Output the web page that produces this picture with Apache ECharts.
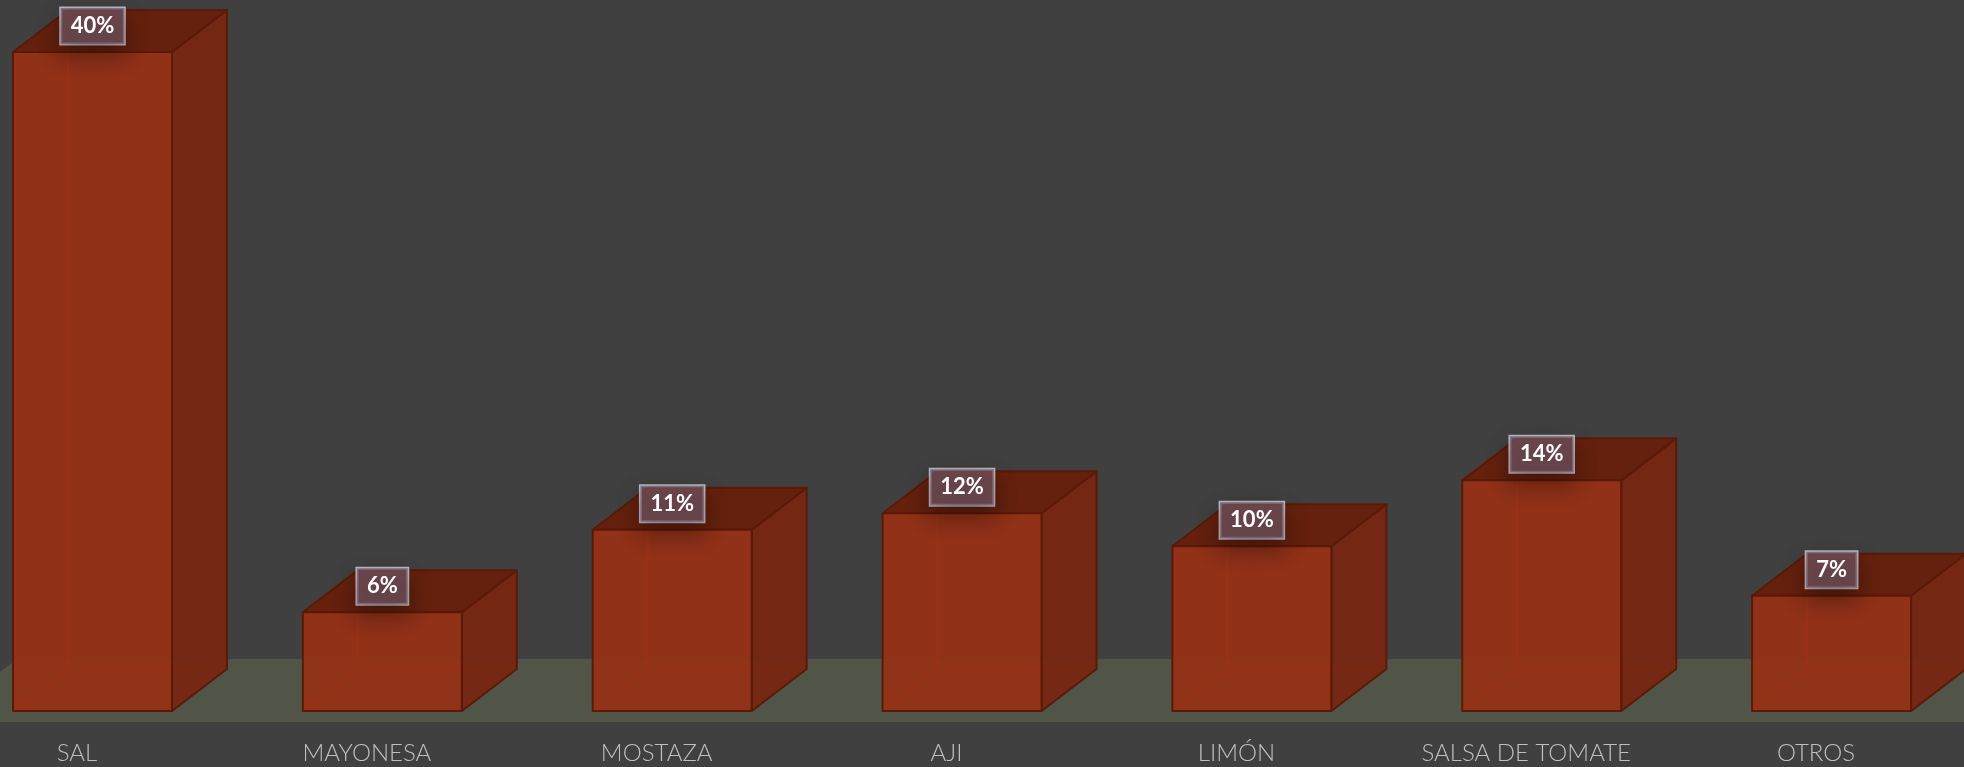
<!DOCTYPE html>
<html>
<head>
<meta charset="utf-8">
<style>
  html, body { margin: 0; padding: 0; background: #404040; }
  #chart { width: 1964px; height: 767px; }
</style>
<script src="https://cdn.jsdelivr.net/npm/echarts@6/dist/echarts.min.js"></script>
</head>
<body>
<div id="chart"></div>
<script>
// Condiment preference shares (%)
const categories = ['SAL', 'MAYONESA', 'MOSTAZA', 'AJI', 'LIMÓN', 'SALSA DE TOMATE', 'OTROS'];
const shares = [40, 6, 11, 12, 10, 14, 7];

// Box geometry (pixels)
const FRONT_W = 159;   // width of the front face
const FRONT_OFF = -64; // front-left edge relative to the category centre
const DEPTH_X = 55;    // receding depth, horizontal
const DEPTH_Y = 42;    // receding depth, vertical

const EDGE = '#5a1a08';
const HIDDEN = '#b03917';

function renderBox(params, api) {
  const i = api.value(0);
  const v = api.value(1);
  const top = api.coord([i, v]);
  const base = api.coord([i, 0]);
  const xc = top[0];
  const yT = top[1];
  const yB = base[1];
  const l = xc + FRONT_OFF;
  const r = l + FRONT_W;
  const edge = { stroke: EDGE, lineWidth: 2, lineJoin: 'round' };

  return {
    type: 'group',
    children: [
      // back edges, seen through the translucent faces
      {
        type: 'polyline',
        shape: { points: [[l + DEPTH_X, yT - DEPTH_Y], [l + DEPTH_X, yB - DEPTH_Y], [r + DEPTH_X, yB - DEPTH_Y]] },
        style: { stroke: HIDDEN, lineWidth: 2, fill: null }
      },
      {
        type: 'line',
        shape: { x1: l, y1: yB, x2: l + DEPTH_X, y2: yB - DEPTH_Y },
        style: { stroke: HIDDEN, lineWidth: 2 }
      },
      // right side
      {
        type: 'polygon',
        shape: { points: [[r, yT], [r + DEPTH_X, yT - DEPTH_Y], [r + DEPTH_X, yB - DEPTH_Y], [r, yB]] },
        style: Object.assign({ fill: 'rgba(120,37,15,0.92)' }, edge)
      },
      // top
      {
        type: 'polygon',
        shape: { points: [[l, yT], [l + DEPTH_X, yT - DEPTH_Y], [r + DEPTH_X, yT - DEPTH_Y], [r, yT]] },
        style: Object.assign({ fill: 'rgba(102,32,12,0.97)' }, edge)
      },
      // front
      {
        type: 'rect',
        shape: { x: l, y: yT, width: FRONT_W, height: yB - yT },
        style: Object.assign({ fill: 'rgba(151,48,21,0.93)' }, edge)
      },
      // value tag
      {
        type: 'text',
        x: l + FRONT_W / 2,
        y: yT - 26,
        style: {
          text: v + '%',
          fill: '#ffffff',
          font: 'bold 22px Lato, "Open Sans", sans-serif',
          align: 'center',
          verticalAlign: 'middle',
          backgroundColor: 'rgba(112,84,98,0.72)',
          borderColor: 'rgba(205,208,220,0.85)',
          borderWidth: 1.5,
          padding: [7, 10, 7, 10],
          shadowColor: 'rgba(0,0,0,0.45)',
          shadowBlur: 22,
          shadowOffsetY: 10
        }
      }
    ]
  };
}

// Ground plane under the boxes
function renderFloor(params, api) {
  const cs = params.coordSys;
  const yB = api.coord([0, 0])[1];
  const x0 = api.coord([-0.5, 0])[0] + 3;
  const front = yB + 11;
  const back = yB - 52;
  const slope = 82;
  const xr = cs.x + cs.width + 300;
  return {
    type: 'polygon',
    shape: { points: [[x0, front], [x0 + slope, back], [xr, back], [xr, front]] },
    style: { fill: '#505548' }
  };
}

const chart = echarts.init(document.getElementById('chart'), null, { renderer: 'canvas' });
chart.setOption({
  backgroundColor: '#404040',
  animation: false,
  grid: { left: 77, right: 2, top: 52, bottom: 56, containLabel: false },
  xAxis: {
    type: 'value',
    min: 0,
    max: 6.5,
    interval: 1,
    axisLine: { show: false },
    axisTick: { show: false },
    splitLine: { show: false },
    axisLabel: {
      color: '#bfbfbf',
      fontSize: 24,
      fontWeight: 300,
      fontFamily: 'Lato, "Open Sans", sans-serif',
      margin: 30,
      showMinLabel: true,
      showMaxLabel: true,
      formatter: function (val) {
        return Number.isInteger(val) && categories[val] !== undefined ? categories[val] : '';
      }
    }
  },
  yAxis: {
    type: 'value',
    min: 0,
    max: 40,
    show: false,
    splitLine: { show: false }
  },
  series: [
    {
      type: 'custom',
      name: 'floor',
      z: 1,
      silent: true,
      clip: false,
      renderItem: renderFloor,
      data: [[0, 0]]
    },
    {
      type: 'custom',
      name: 'shares',
      z: 2,
      clip: false,
      renderItem: renderBox,
      encode: { x: 0, y: 1 },
      data: shares.map((v, i) => [i, v])
    }
  ]
});
</script>
</body>
</html>
